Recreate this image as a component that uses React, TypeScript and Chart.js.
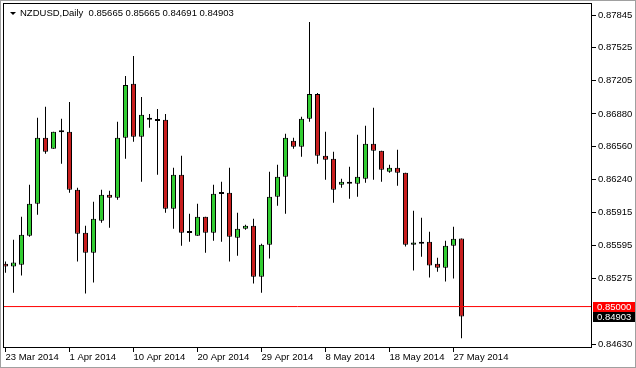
import React, { useEffect, useRef } from 'react';
import { Chart, registerables } from 'chart.js';
Chart.register(...registerables);

const FONT = "'Liberation Sans', Arial, sans-serif";

const symbolTitle = 'NZDUSD,Daily';
const dateLabels = ['23 Mar 2014', '1 Apr 2014', '10 Apr 2014', '20 Apr 2014', '29 Apr 2014', '8 May 2014', '18 May 2014', '27 May 2014'];
const dateLabelBars = [0, 8, 16, 24, 32, 40, 48, 56];
const priceTicks = [0.87845, 0.87525, 0.87205, 0.8688, 0.8656, 0.8624, 0.85915, 0.85595, 0.85275, 0.8463];
const levelLine = 0.85;

const opens = [0.85419, 0.8539, 0.85409, 0.85692, 0.86004, 0.86647, 0.86539, 0.86705, 0.86705, 0.8614,
  0.85721, 0.85526, 0.85838, 0.86091, 0.86062, 0.86647, 0.87173, 0.86656, 0.86842, 0.86812,
  0.86822, 0.85955, 0.86286, 0.85721, 0.85692, 0.85877, 0.85721, 0.86101, 0.86111, 0.85672,
  0.8576, 0.85789, 0.85292, 0.85604, 0.86072, 0.86267, 0.86617, 0.86559, 0.86832, 0.87075,
  0.86471, 0.86442, 0.86189, 0.86218, 0.86198, 0.86247, 0.86588, 0.8652, 0.86315, 0.86354,
  0.86306, 0.85604, 0.85633, 0.85633, 0.85419, 0.8538, 0.85594, 0.85665];
const highs = [0.85439, 0.85653, 0.85877, 0.86189, 0.86842, 0.86949, 0.86705, 0.86832, 0.86997, 0.8616,
  0.85789, 0.86023, 0.8614, 0.8613, 0.86803, 0.87251, 0.87446, 0.87046, 0.8688, 0.86929,
  0.8688, 0.86354, 0.86471, 0.85906, 0.86004, 0.85877, 0.86189, 0.86218, 0.86354, 0.85916,
  0.85799, 0.85857, 0.85614, 0.86315, 0.86384, 0.86686, 0.86647, 0.86851, 0.87777, 0.87085,
  0.86705, 0.8651, 0.86247, 0.86364, 0.86676, 0.86764, 0.86939, 0.8652, 0.86384, 0.8653,
  0.86306, 0.85935, 0.85867, 0.85731, 0.85477, 0.85643, 0.8578, 0.85665];
const lows = [0.85331, 0.85136, 0.85302, 0.85682, 0.85896, 0.86491, 0.86539, 0.86393, 0.86111, 0.85439,
  0.85127, 0.85234, 0.85819, 0.8577, 0.86043, 0.86442, 0.86608, 0.86218, 0.86744, 0.86286,
  0.85916, 0.8576, 0.85594, 0.85633, 0.85692, 0.85526, 0.85643, 0.85633, 0.85439, 0.85497,
  0.8575, 0.85224, 0.85136, 0.85468, 0.85984, 0.85906, 0.86539, 0.86462, 0.86803, 0.86393,
  0.86237, 0.86013, 0.8616, 0.86052, 0.86072, 0.86208, 0.86237, 0.86218, 0.86306, 0.86179,
  0.85585, 0.85351, 0.85487, 0.85283, 0.85341, 0.85244, 0.85273, 0.84691];
const closes = [0.8539, 0.85429, 0.85702, 0.86004, 0.86647, 0.8651, 0.86705, 0.867, 0.8614, 0.85711,
  0.85526, 0.85857, 0.86091, 0.86062, 0.86647, 0.87163, 0.86656, 0.86871, 0.86822, 0.8681,
  0.85955, 0.86286, 0.85721, 0.85719, 0.85877, 0.85721, 0.86101, 0.86099, 0.85682, 0.8576,
  0.85789, 0.85292, 0.85604, 0.86072, 0.86267, 0.86647, 0.86559, 0.86832, 0.87075, 0.86471,
  0.86432, 0.8614, 0.86218, 0.86198, 0.86267, 0.86588, 0.8652, 0.86335, 0.86354, 0.86306,
  0.85604, 0.85624, 0.85614, 0.854, 0.8538, 0.85594, 0.85663, 0.84903];

const UP = '#32CD32';
const DOWN = '#C81E1E';

export default function App() {
  const ref = useRef<HTMLCanvasElement>(null);
  useEffect(() => {
    document.body.style.margin = '0';
    const idx = opens.map((_, i) => i);
    const last = opens.length - 1;
    const bodyData = idx.map(i => ({ x: i, y: [opens[i], closes[i]] }));
    const wickData = idx.map(i => ({ x: i, y: [lows[i], highs[i]] }));
    const bodyColors = idx.map(i => (closes[i] >= opens[i] ? UP : DOWN));
    const header = `${symbolTitle}  ${opens[last].toFixed(5)} ${highs[last].toFixed(5)} ${lows[last].toFixed(5)} ${closes[last].toFixed(5)}`;

    const overlay = {
      id: 'overlay',
      beforeDraw(chart: any) {
        const ctx = chart.ctx;
        ctx.save();
        ctx.fillStyle = '#fff';
        ctx.fillRect(0, 0, chart.width, chart.height);
        ctx.restore();
      },
      afterDraw(chart: any) {
        const ctx = chart.ctx;
        const a = chart.chartArea;
        const ys = chart.scales.y;
        ctx.save();
        ctx.strokeStyle = '#A0A0A0';
        ctx.lineWidth = 1;
        ctx.strokeRect(0.5, 0.5, chart.width - 1, chart.height - 1);
        ctx.strokeStyle = '#000';
        ctx.strokeRect(a.left + 0.5, a.top + 0.5, a.right - a.left - 1, a.bottom - a.top - 1);
        ctx.fillStyle = '#000';
        ctx.beginPath();
        ctx.moveTo(10, 12);
        ctx.lineTo(16, 12);
        ctx.lineTo(13, 15);
        ctx.closePath();
        ctx.fill();
        ctx.font = `9.5px ${FONT}`;
        ctx.textBaseline = 'middle';
        ctx.textAlign = 'left';
        ctx.fillText(header, 20, 13);
        const box = (v: number, bg: string) => {
          const py = ys.getPixelForValue(v);
          ctx.fillStyle = bg;
          ctx.fillRect(593, Math.round(py) - 5, 42, 10);
          ctx.fillStyle = '#fff';
          ctx.fillText(v.toFixed(5), 597, Math.round(py));
        };
        box(levelLine, '#FF0000');
        box(closes[last], '#000');
        ctx.restore();
      },
    };

    const chart = new Chart(ref.current!, {
      type: 'bar',
      data: {
        datasets: [
          {
            type: 'line',
            data: [{ x: -1, y: levelLine }, { x: 80, y: levelLine }],
            borderColor: '#FF0000',
            borderWidth: 1,
            pointRadius: 0,
            order: 0,
          } as any,
          {
            data: bodyData,
            backgroundColor: bodyColors,
            borderColor: '#000',
            borderWidth: 1,
            borderSkipped: false,
            barThickness: 5,
            minBarLength: 2,
            grouped: false,
            inflateAmount: 0,
            order: 1,
          } as any,
          {
            data: wickData,
            backgroundColor: '#000',
            borderWidth: 0,
            barThickness: 1,
            grouped: false,
            inflateAmount: 0,
            order: 2,
          } as any,
        ],
      },
      options: {
        animation: false,
        responsive: true,
        maintainAspectRatio: false,
        layout: { padding: { left: 3, top: 3, right: 0, bottom: 0 } },
        plugins: { legend: { display: false }, tooltip: { enabled: false } },
        scales: {
          x: {
            type: 'linear',
            min: -0.3125,
            max: 73.3125,
            offset: false,
            bounds: 'ticks',
            afterBuildTicks: (s: any) => { s.ticks = dateLabelBars.map(v => ({ value: v })); },
            afterFit: (s: any) => { s.height = 20; s.paddingLeft = 0; s.paddingRight = 0; },
            ticks: {
              callback: (_v: any, i: number) => dateLabels[i],
              align: 'start',
              maxRotation: 0,
              autoSkip: false,
              padding: 0,
              color: '#000',
              font: { family: FONT, size: 9.5 },
            },
            grid: { offset: false, drawOnChartArea: false, drawTicks: true, tickLength: 4, color: '#000' },
            border: { display: false },
          },
          y: {
            position: 'right',
            min: 0.845958,
            max: 0.879621,
            afterBuildTicks: (s: any) => { s.ticks = priceTicks.map(v => ({ value: v })); },
            afterFit: (s: any) => { s.width = 44; s.paddingTop = 0; s.paddingBottom = 0; },
            ticks: {
              callback: (v: any) => Number(v).toFixed(5),
              padding: 2,
              color: '#000',
              font: { family: FONT, size: 9.5 },
            },
            grid: { drawOnChartArea: false, drawTicks: true, tickLength: 4, color: '#000' },
            border: { display: false },
          },
        },
      } as any,
      plugins: [overlay],
    });
    return () => chart.destroy();
  }, []);
  return (
    <div style={{ position: 'absolute', left: 0, top: 0, width: 636, height: 368 }}>
      <canvas ref={ref} />
    </div>
  );
}
